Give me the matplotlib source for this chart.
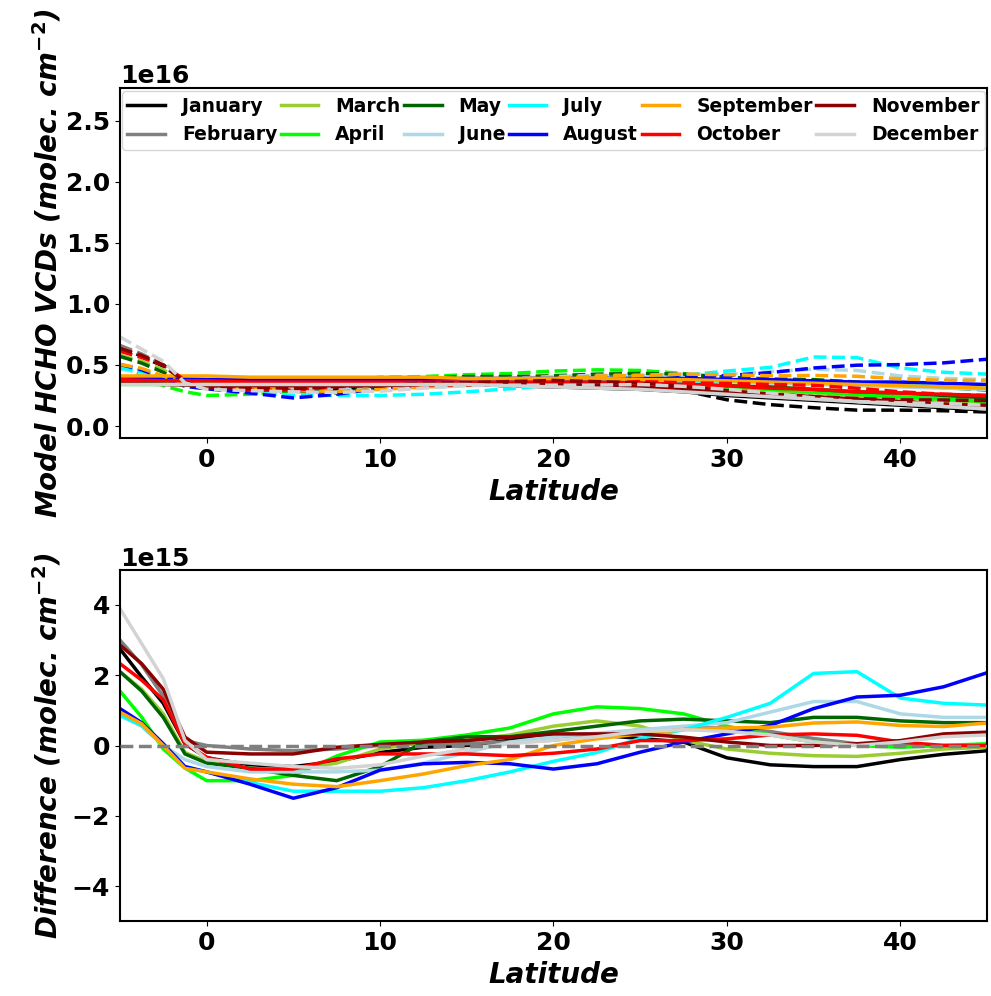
import numpy as np
import matplotlib.pyplot as plt

# latitude grid (degrees)
lat = [-5, -3.75, -2.5, -1.25, 0, 2.5, 5, 7.5, 10, 12.5, 15, 17.5, 20, 22.5, 25,
       27.5, 30, 32.5, 35, 37.5, 40, 42.5, 45]

months = ['January', 'February', 'March', 'April', 'May', 'June',
          'July', 'August', 'September', 'October', 'November', 'December']
colors = ['black', 'gray', 'yellowgreen', 'lime', 'darkgreen', 'lightblue',
          'cyan', 'blue', 'orange', 'red', 'darkred', 'lightgray']

# model VCDs, units 1e16 molec/cm2
vcd_jan = [0.38, 0.375, 0.37, 0.365, 0.36, 0.36, 0.35, 0.35, 0.35, 0.35, 0.34, 0.33, 0.32, 0.31, 0.30, 0.28, 0.25, 0.23, 0.21, 0.19, 0.17, 0.15, 0.13]
vcd_feb = [0.36, 0.36, 0.36, 0.355, 0.35, 0.35, 0.35, 0.35, 0.35, 0.35, 0.35, 0.34, 0.33, 0.32, 0.31, 0.29, 0.26, 0.24, 0.22, 0.20, 0.18, 0.16, 0.14]
vcd_mar = [0.37, 0.37, 0.37, 0.37, 0.37, 0.37, 0.37, 0.38, 0.38, 0.38, 0.38, 0.37, 0.36, 0.35, 0.34, 0.33, 0.31, 0.29, 0.27, 0.25, 0.23, 0.21, 0.19]
vcd_apr = [0.34, 0.34, 0.34, 0.345, 0.35, 0.36, 0.37, 0.38, 0.39, 0.39, 0.39, 0.38, 0.36, 0.35, 0.35, 0.34, 0.32, 0.30, 0.28, 0.26, 0.24, 0.22, 0.20]
vcd_may = [0.36, 0.36, 0.36, 0.365, 0.37, 0.37, 0.37, 0.37, 0.38, 0.38, 0.38, 0.38, 0.37, 0.37, 0.36, 0.35, 0.33, 0.32, 0.30, 0.28, 0.27, 0.25, 0.23]
vcd_jun = [0.38, 0.38, 0.38, 0.38, 0.38, 0.38, 0.38, 0.38, 0.38, 0.38, 0.38, 0.38, 0.38, 0.38, 0.37, 0.37, 0.36, 0.35, 0.34, 0.33, 0.32, 0.31, 0.30]
vcd_jul = [0.39, 0.39, 0.39, 0.385, 0.38, 0.38, 0.38, 0.38, 0.38, 0.38, 0.38, 0.38, 0.38, 0.38, 0.38, 0.37, 0.37, 0.36, 0.36, 0.35, 0.34, 0.32, 0.31]
vcd_aug = [0.40, 0.395, 0.39, 0.385, 0.38, 0.38, 0.38, 0.38, 0.38, 0.38, 0.39, 0.39, 0.39, 0.39, 0.39, 0.39, 0.38, 0.38, 0.37, 0.36, 0.36, 0.35, 0.34]
vcd_sep = [0.41, 0.41, 0.41, 0.41, 0.41, 0.40, 0.40, 0.40, 0.40, 0.40, 0.39, 0.39, 0.39, 0.39, 0.38, 0.38, 0.37, 0.36, 0.35, 0.34, 0.33, 0.32, 0.31]
vcd_oct = [0.38, 0.375, 0.37, 0.37, 0.37, 0.36, 0.36, 0.36, 0.36, 0.36, 0.36, 0.36, 0.36, 0.36, 0.35, 0.34, 0.33, 0.31, 0.30, 0.28, 0.27, 0.26, 0.25]
vcd_nov = [0.35, 0.345, 0.34, 0.335, 0.33, 0.33, 0.33, 0.33, 0.33, 0.34, 0.34, 0.34, 0.34, 0.33, 0.32, 0.30, 0.28, 0.26, 0.24, 0.22, 0.20, 0.18, 0.17]
vcd_dec = [0.34, 0.34, 0.34, 0.34, 0.34, 0.34, 0.34, 0.34, 0.34, 0.34, 0.34, 0.33, 0.32, 0.31, 0.30, 0.28, 0.26, 0.24, 0.22, 0.20, 0.18, 0.16, 0.14]

# difference (second run minus model), units 1e15 molec/cm2
dif_jan = [2.75, 1.95, 1.2, 0.05, -0.35, -0.55, -0.6, -0.45, -0.2, -0.05, 0.0, 0.15, 0.3, 0.3, 0.2, 0.1, -0.35, -0.55, -0.6, -0.6, -0.4, -0.25, -0.15]
dif_feb = [3.0, 2.3, 1.4, 0.14, 0.0, -0.1, -0.15, -0.1, 0.0, 0.05, 0.05, 0.1, 0.15, 0.3, 0.45, 0.5, 0.5, 0.4, 0.2, 0.05, 0.0, 0.0, 0.0]
dif_mar = [2.1, 1.6, 0.9, -0.2, -0.45, -0.65, -0.7, -0.5, -0.1, 0.1, 0.15, 0.3, 0.55, 0.7, 0.55, 0.15, -0.1, -0.22, -0.29, -0.31, -0.22, -0.1, -0.05]
dif_apr = [1.55, 0.81, -0.1, -0.64, -1.0, -1.0, -0.85, -0.3, 0.1, 0.15, 0.3, 0.5, 0.9, 1.1, 1.05, 0.9, 0.55, 0.3, 0.1, 0.0, -0.05, 0.0, 0.05]
dif_may = [2.1, 1.55, 0.8, -0.24, -0.5, -0.65, -0.85, -1.0, -0.6, 0.1, 0.25, 0.25, 0.4, 0.55, 0.7, 0.75, 0.7, 0.65, 0.8, 0.8, 0.7, 0.65, 0.65]
dif_jun = [0.85, 0.55, 0.0, -0.4, -0.6, -0.75, -0.75, -0.75, -0.7, -0.5, -0.2, 0.1, 0.25, 0.35, 0.45, 0.55, 0.65, 0.95, 1.25, 1.25, 0.9, 0.8, 0.8]
dif_jul = [0.86, 0.57, 0.0, -0.6, -0.75, -1.05, -1.3, -1.3, -1.3, -1.2, -1.0, -0.75, -0.45, -0.2, 0.2, 0.45, 0.8, 1.2, 2.05, 2.1, 1.35, 1.2, 1.15]
dif_aug = [1.05, 0.65, 0.05, -0.6, -0.75, -1.1, -1.5, -1.2, -0.7, -0.52, -0.48, -0.52, -0.67, -0.52, -0.19, 0.1, 0.33, 0.57, 1.05, 1.38, 1.43, 1.67, 2.07]
dif_sep = [0.95, 0.62, 0.0, -0.65, -0.75, -0.95, -1.1, -1.17, -1.0, -0.81, -0.57, -0.4, 0.0, 0.19, 0.33, 0.45, 0.5, 0.52, 0.64, 0.67, 0.57, 0.54, 0.64]
dif_oct = [2.33, 1.86, 1.3, 0.05, -0.33, -0.67, -0.67, -0.38, -0.24, -0.24, -0.24, -0.29, -0.22, -0.1, 0.14, 0.14, 0.19, 0.3, 0.33, 0.29, 0.1, 0.0, 0.0]
dif_nov = [2.86, 2.33, 1.6, 0.24, -0.19, -0.24, -0.24, -0.05, 0.03, 0.1, 0.14, 0.24, 0.33, 0.33, 0.33, 0.24, 0.1, 0.0, 0.0, 0.05, 0.14, 0.33, 0.38]
dif_dec = [3.9, 2.9, 1.9, 0.14, -0.4, -0.5, -0.6, -0.65, -0.55, -0.3, -0.1, 0.05, 0.15, 0.25, 0.4, 0.45, 0.4, 0.3, 0.1, 0.0, 0.1, 0.25, 0.3]

vcds = [vcd_jan, vcd_feb, vcd_mar, vcd_apr, vcd_may, vcd_jun,
        vcd_jul, vcd_aug, vcd_sep, vcd_oct, vcd_nov, vcd_dec]
difs = [dif_jan, dif_feb, dif_mar, dif_apr, dif_may, dif_jun,
        dif_jul, dif_aug, dif_sep, dif_oct, dif_nov, dif_dec]

plt.rcParams['font.weight'] = 'bold'

fig = plt.figure(figsize=(9.91, 9.96), dpi=100)
ax1 = fig.add_axes([0.121, 0.560, 0.875, 0.352])
ax2 = fig.add_axes([0.121, 0.075, 0.875, 0.353])

x = np.array(lat)
for name, c, v, d in zip(months, colors, vcds, difs):
    base = np.array(v) * 1e16
    diff = np.array(d) * 1e15
    ax1.plot(x, base, color=c, lw=2.5, label=name)
    ax1.plot(x, base + diff, color=c, lw=2.5, ls='--')
    ax2.plot(x, diff, color=c, lw=2.5)

ax2.axhline(0, color='gray', ls='--', lw=2.5, zorder=5)

ax1.set_xlim(-5, 45)
ax1.set_ylim(-0.1e16, 2.77e16)
ax2.set_xlim(-5, 45)
ax2.set_ylim(-5e15, 5e15)

ax1.set_ylabel('Model HCHO VCDs (molec. cm$^{-2}$)', fontsize=20,
               fontweight='bold', fontstyle='italic', labelpad=2)
ax2.set_ylabel('Difference (molec. cm$^{-2}$)', fontsize=20,
               fontweight='bold', fontstyle='italic', labelpad=6)
for ax in (ax1, ax2):
    ax.set_xlabel('Latitude', fontsize=20, fontweight='bold', fontstyle='italic',
                  labelpad=4)
    ax.tick_params(labelsize=18)
    ax.yaxis.get_offset_text().set_fontweight('bold')
    ax.yaxis.get_offset_text().set_fontsize(18)
    for s in ax.spines.values():
        s.set_linewidth(1.5)

ax1.legend(ncol=6, loc='upper center', prop={'weight': 'bold', 'size': 13.5},
           columnspacing=0.2, handletextpad=0.9, borderaxespad=0.2,
           borderpad=0.3, labelspacing=0.5)

fig.savefig('out.png', dpi=100)
